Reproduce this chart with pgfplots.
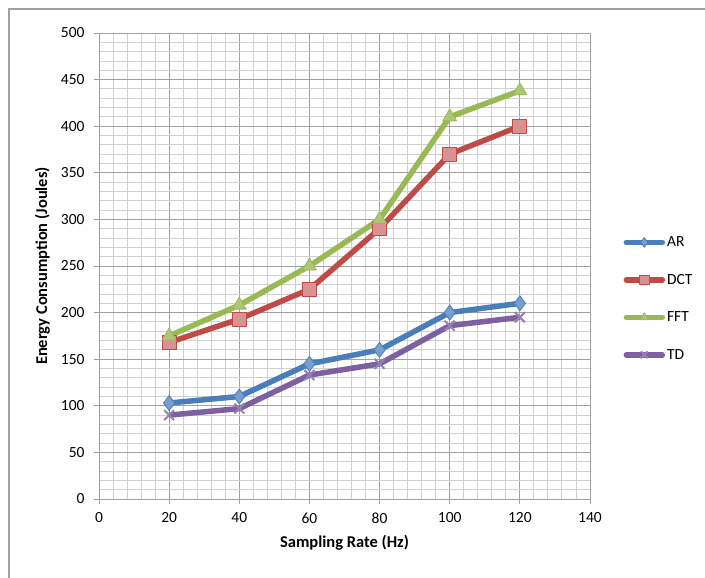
\documentclass[border=0pt]{standalone}
\usepackage{fontspec}
\setmainfont{Carlito}
\usepackage{pgfplots}
\pgfplotsset{compat=1.18}
\definecolor{cAR}{RGB}{74,126,187}
\definecolor{cDCT}{RGB}{190,75,72}
\definecolor{cFFT}{RGB}{152,185,84}
\definecolor{cTD}{RGB}{125,96,160}
\definecolor{majg}{RGB}{160,160,160}
\definecolor{ming}{RGB}{208,208,208}
\begin{document}
\begin{tikzpicture}[x=1pt,y=1pt]
\useasboundingbox (0,0) rectangle (705,-578);
\begin{scope}
\clip (0,0) rectangle (705,-578);
\draw[color=majg, line width=1.2pt] (9,-9) rectangle (720,-600);
\end{scope}
\begin{axis}[
  at={(99pt,-499pt)}, anchor=south west,
  scale only axis, width=491pt, height=466pt,
  xmin=0, xmax=140, ymin=0, ymax=500,
  xtick={0,20,...,140}, ytick={0,50,...,500},
  minor x tick num=4, minor y tick num=4,
  grid=both,
  major grid style={color=majg, line width=0.9pt},
  minor grid style={color=ming, line width=0.9pt},
  axis line style={color=majg, line width=1pt},
  tick align=outside,
  major tick length=5pt, minor tick length=0pt,
  tick style={color=majg, line width=1pt},
  axis x line*=bottom, axis y line*=left,
  /pgf/number format/assume math mode=true,
  ticklabel style={font=\fontsize{15.5}{17}\selectfont},
  xticklabel style={yshift=-5pt},
  yticklabel style={xshift=-6pt},
  xlabel={\textbf{Sampling Rate (Hz)}},
  ylabel={\textbf{Energy Consumption (Joules)}},
  label style={font=\fontsize{16.5}{18}\selectfont},
  xlabel style={yshift=-5pt},
  ylabel style={yshift=4pt},
  legend style={at={(1.068,0.43)}, anchor=west, draw=none, fill=none,
    font=\fontsize{15.5}{17}\selectfont, row sep=22pt, inner sep=0pt},
  legend cell align=left,
  legend image code/.code={
    \draw[#1, mark=none, line cap=round] (0pt,0pt) -- (36pt,0pt);
    \draw[#1, only marks, mark size=4.8pt] plot coordinates {(18pt,0pt)};
  },
  every axis plot/.append style={line width=5.5pt, line join=round},
]
\addplot[color=cAR, mark=diamond*, mark size=7.5pt, mark options={fill=cAR!75!white, draw=cAR, line width=0.8pt}]
  coordinates {(20,103) (40,110) (60,145) (80,160) (100,200) (120,210)};
\addlegendentry{AR}
\addplot[color=cDCT, mark=square*, mark size=7pt, mark options={fill=cDCT!60!white, draw=cDCT, line width=0.8pt}]
  coordinates {(20,168) (40,193) (60,225) (80,290) (100,370) (120,400)};
\addlegendentry{DCT}
\addplot[color=cFFT, mark=triangle*, mark size=8pt, mark options={fill=cFFT!80!white, draw=cFFT, line width=0.8pt}]
  coordinates {(20,175) (40,208) (60,250) (80,300) (100,410) (120,438)};
\addlegendentry{FFT}
\addplot[color=cTD, mark=x, mark size=7pt, mark options={draw=cTD!80!white, line width=2pt}]
  coordinates {(20,90) (40,97) (60,133) (80,145) (100,186) (120,195)};
\addlegendentry{TD}
\end{axis}
\end{tikzpicture}
\end{document}
